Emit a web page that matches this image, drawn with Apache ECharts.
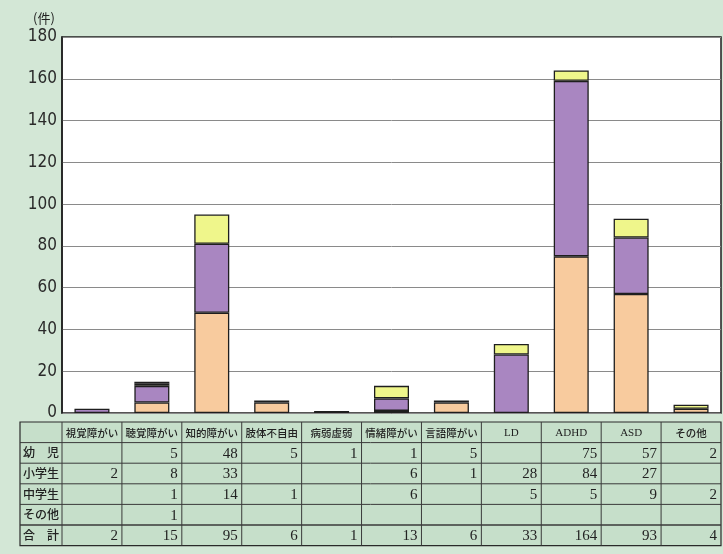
<!DOCTYPE html>
<html><head><meta charset="utf-8">
<script src="https://cdn.jsdelivr.net/npm/echarts@6/dist/echarts.min.js"></script>
<style>html,body{margin:0;padding:0;background:#d3e7d6}#c{width:723px;height:554px}</style>
</head><body><div id="c"></div>
<script>
// ---- data ----
const categories = ['視覚障がい','聴覚障がい','知的障がい','肢体不自由','病弱虚弱','情緒障がい','言語障がい','LD','ADHD','ASD','その他'];
const rowNames = ['幼　児','小学生','中学生','その他'];
const yoji    = [null, 5, 48, 5, 1, 1, 5, null, 75, 57, 2];
const shogaku = [2, 8, 33, null, null, 6, 1, 28, 84, 27, null];
const chugaku = [null, 1, 14, 1, null, 6, null, 5, 5, 9, 2];
const sonota  = [null, 1, null, null, null, null, null, null, null, null, null];
const totals  = [2, 15, 95, 6, 1, 13, 6, 33, 164, 93, 4];
const yMin = 0, yMax = 180, yStep = 20;
const unitLabel = '(件)';

// ---- chart ----
const W = 723, H = 554;
const G = {left: 62, right: 2, top: 37, bottom: 141};
const colors = ['#f8cb9e', '#a986c1', '#eff68b', '#3a3a3a'];
const seriesData = [yoji, shogaku, chugaku, sonota];
const chart = echarts.init(document.getElementById('c'));

const series = seriesData.map((d, i) => ({
  name: rowNames[i], type: 'bar', stack: 'total', data: d, barWidth: 35,
  itemStyle: {color: colors[i], borderColor: '#1e1e1e', borderWidth: 1.3},
  emphasis: {disabled: true}
}));

// ---- table via graphic ----
const tblLeft = 20, firstColRight = G.left, tblRight = W - G.right;
const bw = (tblRight - firstColRight) / categories.length;
const tblTop = 422, rowH = 20.6;
const tableRows = [yoji, shogaku, chugaku, sonota, totals];
const tableRowLabels = rowNames.concat(['合　計']);
const nRows = tableRows.length + 1;
const tblBottom = tblTop + rowH * nRows;
const g = [];
g.push({type: 'rect', shape: {x: tblLeft, y: tblTop, width: tblRight - tblLeft, height: tblBottom - tblTop},
  style: {fill: '#c6dfca', stroke: '#2a2a2a', lineWidth: 1.2}, z: 1});
for (let r = 1; r < nRows; r++) {
  const y = tblTop + r * rowH;
  g.push({type: 'line', shape: {x1: tblLeft, y1: y, x2: tblRight, y2: y}, style: {stroke: '#3a3a3a', lineWidth: r === nRows - 1 ? 1.6 : 1}, z: 2});
}
for (let c = 0; c < categories.length; c++) {
  const x = firstColRight + c * bw;
  g.push({type: 'line', shape: {x1: x, y1: tblTop, x2: x, y2: tblBottom}, style: {stroke: '#3a3a3a', lineWidth: 1}, z: 2});
}
categories.forEach((cat, c) => {
  const latin = /^[A-Za-z]+$/.test(cat);
  g.push({type: 'text', x: firstColRight + c * bw + bw / 2, y: tblTop + rowH / 2 + 1, z: 3,
    style: {text: cat, fill: '#222', font: latin ? '11px "Liberation Serif"' : '500 10.5px "Noto Sans CJK JP"', align: 'center', verticalAlign: 'middle'}});
});
tableRows.forEach((row, r) => {
  const yc = tblTop + (r + 1) * rowH + rowH / 2;
  g.push({type: 'text', x: tblLeft + 3, y: yc, z: 3,
    style: {text: tableRowLabels[r], fill: '#222', font: '500 12px "Noto Sans CJK JP"', align: 'left', verticalAlign: 'middle'}});
  row.forEach((v, c) => {
    if (v === null) return;
    g.push({type: 'text', x: firstColRight + (c + 1) * bw - 4, y: yc + 1, z: 3,
      style: {text: String(v), fill: '#222', font: '15px "Liberation Serif"', align: 'right', verticalAlign: 'middle'}});
  });
});

chart.setOption({
  backgroundColor: '#d3e7d6',
  animation: false,
  grid: {left: G.left, right: G.right, top: G.top, bottom: G.bottom, show: true,
    backgroundColor: '#ffffff', borderColor: '#1e1e1e', borderWidth: 1.5},
  xAxis: {type: 'category', data: categories, axisLine: {show: false}, axisTick: {show: false}, axisLabel: {show: false}},
  yAxis: {type: 'value', min: yMin, max: yMax, interval: yStep,
    name: unitLabel, nameLocation: 'end', nameGap: 12,
    nameTextStyle: {color: '#222', fontSize: 13, fontFamily: 'Noto Sans CJK JP', align: 'center', padding: [0, 0, 0, -36]},
    axisLine: {show: true, lineStyle: {color: '#1e1e1e', width: 1.5}},
    axisTick: {show: false},
    splitLine: {lineStyle: {color: '#8a8a8a', width: 1}},
    axisLabel: {color: '#2a2a2a', fontSize: 17, fontFamily: 'DejaVu Sans Condensed', margin: 5}},
  series: series,
  graphic: g
});
</script></body></html>
